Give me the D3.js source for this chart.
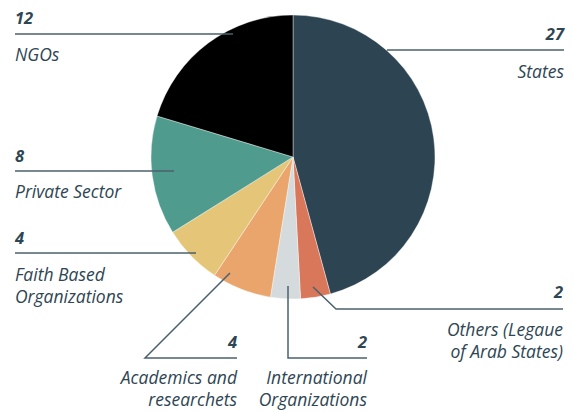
<!DOCTYPE html>
<html>
<head>
<meta charset="utf-8">
<script src="https://cdn.jsdelivr.net/npm/d3@7"></script>
<style>
  body { margin: 0; background: #fff; }
  svg { display: block; }
  text { font-family: "Open Sans", Lato, sans-serif; fill: #2e4553; font-style: italic; }
  .num { font-weight: 700; font-size: 16.5px; }
  .lbl { font-size: 17.5px; }
</style>
</head>
<body>
<svg id="chart" width="574" height="412"></svg>
<script>
// Pie data (clockwise from 12 o'clock)
const categories = ["States", "Others (Legaue of Arab States)", "International Organizations",
  "Academics and researchets", "Faith Based Organizations", "Private Sector", "NGOs"];
const values = [27, 2, 2, 4, 4, 8, 12];
const colors = ["#2d4553", "#d9775a", "#d5dadd", "#e9a56c", "#e5c577", "#4f9c8f", "#000000"];

// label lines split over rows
const labelLines = [["States"], ["Others (Legaue", "of Arab States)"], ["International", "Organizations"],
  ["Academics and", "researchets"], ["Faith Based", "Organizations"], ["Private Sector"], ["NGOs"]];

// leader layout: polyline points, text anchor/x, number baseline, label baseline
const leaders = [
  {pts: [[387, 50], [564, 50]], anchor: "end", tx: 564, ny: 40, ly: 78},
  {pts: [[313, 287], [336, 309], [563, 309]], anchor: "end", tx: 563, ny: 298, ly: 336},
  {pts: [[288, 286], [288, 358], [367, 358]], anchor: "end", tx: 367, ny: 348, ly: 384},
  {pts: [[230, 273], [145, 358], [237, 358]], anchor: "end", tx: 237, ny: 348, ly: 384},
  {pts: [[196, 253], [15, 253]], anchor: "start", tx: 15, ny: 244, ly: 281},
  {pts: [[174, 171], [15, 171]], anchor: "start", tx: 15, ny: 162, ly: 198},
  {pts: [[233, 34], [15, 34]], anchor: "start", tx: 15, ny: 24, ly: 61}
];

const svg = d3.select("#chart");
const cx = 293, cy = 157, r = 142;

const data = categories.map((c, i) => ({cat: c, value: values[i], color: colors[i], lines: labelLines[i], lead: leaders[i]}));

const pie = d3.pie().sort(null).value(d => d.value);
const arc = d3.arc().innerRadius(0).outerRadius(r);

const g = svg.append("g").attr("transform", `translate(${cx},${cy})`);
g.selectAll("path")
  .data(pie(data))
  .join("path")
  .attr("d", arc)
  .attr("fill", d => d.data.color)
  .attr("stroke", "#fff")
  .attr("stroke-width", 0.4);

const line = d3.line();
svg.append("g")
  .selectAll("path")
  .data(data)
  .join("path")
  .attr("d", d => line(d.lead.pts))
  .attr("fill", "none")
  .attr("stroke", "#4b616d")
  .attr("stroke-width", 1.5);

const labels = svg.append("g").selectAll("g").data(data).join("g");
labels.append("text")
  .attr("class", "num")
  .attr("x", d => d.lead.tx)
  .attr("y", d => d.lead.ny)
  .attr("text-anchor", d => d.lead.anchor)
  .text(d => d.value);
labels.each(function(d) {
  const t = d3.select(this).append("text")
    .attr("class", "lbl")
    .attr("text-anchor", d.lead.anchor);
  d.lines.forEach((s, i) => {
    t.append("tspan").attr("x", d.lead.tx).attr("y", d.lead.ly + i * 22).text(s);
  });
});
</script>
</body>
</html>
